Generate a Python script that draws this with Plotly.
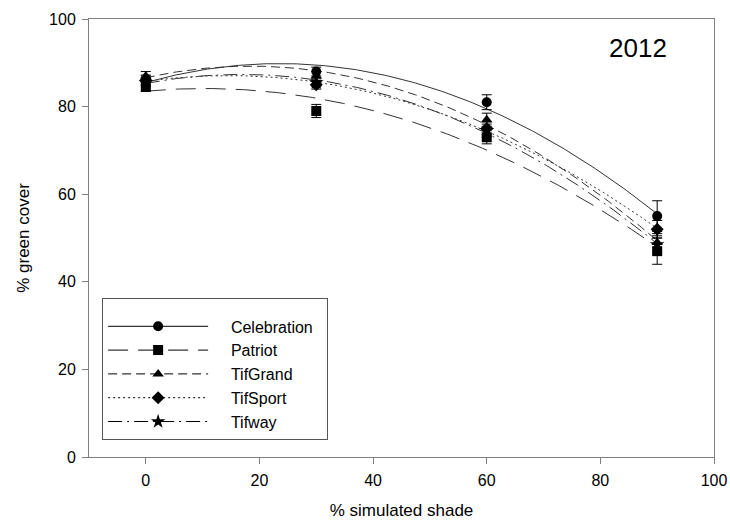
import numpy as np
import plotly.graph_objects as go

shade = [0, 30, 60, 90]
cultivars = ["Celebration", "Patriot", "TifGrand", "TifSport", "Tifway"]
celebration = [86.0, 88.0, 81.0, 55.0]
patriot = [84.5, 79.0, 73.0, 47.0]
tifgrand = [87.0, 87.0, 77.0, 49.0]
tifsport = [86.0, 85.0, 75.0, 52.0]
tifway = [85.5, 85.5, 74.5, 48.5]
celebration_err = [1.2, 1.0, 1.7, 3.5]
patriot_err = [1.0, 1.5, 1.5, 3.0]
tifgrand_err = [1.0, 1.0, 1.5, 2.0]
tifsport_err = [1.0, 1.0, 1.5, 2.0]
tifway_err = [1.0, 1.0, 1.5, 2.0]

values = [celebration, patriot, tifgrand, tifsport, tifway]
errors = [celebration_err, patriot_err, tifgrand_err, tifsport_err, tifway_err]
symbols = ["circle", "square", "triangle-up", "diamond", "star"]
dashes = ["solid", "20px,10px", "9px,5px", "2px,3px", "14px,5px,2px,5px"]

FONT = "Liberation Sans, Arial"

fig = go.Figure()
xs = np.linspace(0, 90, 200)
for name, vals, errs, sym, dash in zip(cultivars, values, errors, symbols, dashes):
    coef = np.polyfit(shade, vals, 2)
    fig.add_trace(go.Scatter(x=xs, y=np.polyval(coef, xs), mode="lines",
                             line=dict(color="#333333", width=1, dash=dash),
                             showlegend=False, hoverinfo="skip"))
for name, vals, errs, sym, dash in zip(cultivars, values, errors, symbols, dashes):
    fig.add_trace(go.Scatter(x=shade, y=vals, mode="markers",
                             marker=dict(symbol=sym, size=10 if sym != "star" else 11, color="black"),
                             error_y=dict(type="data", array=errs, color="black", thickness=1, width=5),
                             showlegend=False))
for name, vals, errs, sym, dash in zip(cultivars, values, errors, symbols, dashes):
    fig.add_trace(go.Scatter(x=[None], y=[None], mode="lines+markers",
                             name="\u00a0\u00a0\u00a0\u00a0" + name + "\u00a0\u00a0",
                             line=dict(color="black", width=1, dash=dash),
                             marker=dict(symbol=sym, size=10 if sym != "star" else 11, color="black")))

fig.add_annotation(x=0.878, y=0.934, xref="paper", yref="paper", text="2012",
                   xanchor="center", yanchor="middle",
                   showarrow=False, font=dict(family=FONT, size=26, color="black"))

axis_common = dict(showline=True, linecolor="#808080", linewidth=1, mirror=True,
                   ticks="outside", ticklen=6, tickcolor="#808080", showgrid=False, zeroline=False,
                   automargin=False, ticklabelstandoff=3,
                   tickfont=dict(family=FONT, size=16, color="black"))
fig.update_xaxes(range=[-10, 100], tickvals=[0, 20, 40, 60, 80, 100],
                 title=dict(text="% simulated shade", font=dict(family=FONT, size=17, color="black")),
                 **axis_common)
fig.update_yaxes(range=[0, 100], tickvals=[0, 20, 40, 60, 80, 100],
                 title=dict(text="% green cover", font=dict(family=FONT, size=17, color="black")),
                 **axis_common)

fig.update_layout(width=730, height=531, margin=dict(l=89, r=16, t=19, b=74),
                  plot_bgcolor="white", paper_bgcolor="white",
                  legend=dict(x=0.021, y=0.363, xanchor="left", yanchor="top",
                              bordercolor="#555555", borderwidth=1, bgcolor="white",
                              itemwidth=100, tracegroupgap=0,
                              title=dict(text="\u00a0", font=dict(size=8)),
                              font=dict(family=FONT, size=16, color="black")))
fig.write_html("out.html", config={"displayModeBar": False},
               post_script="document.body.style.margin='0';document.body.style.overflow='hidden';")
